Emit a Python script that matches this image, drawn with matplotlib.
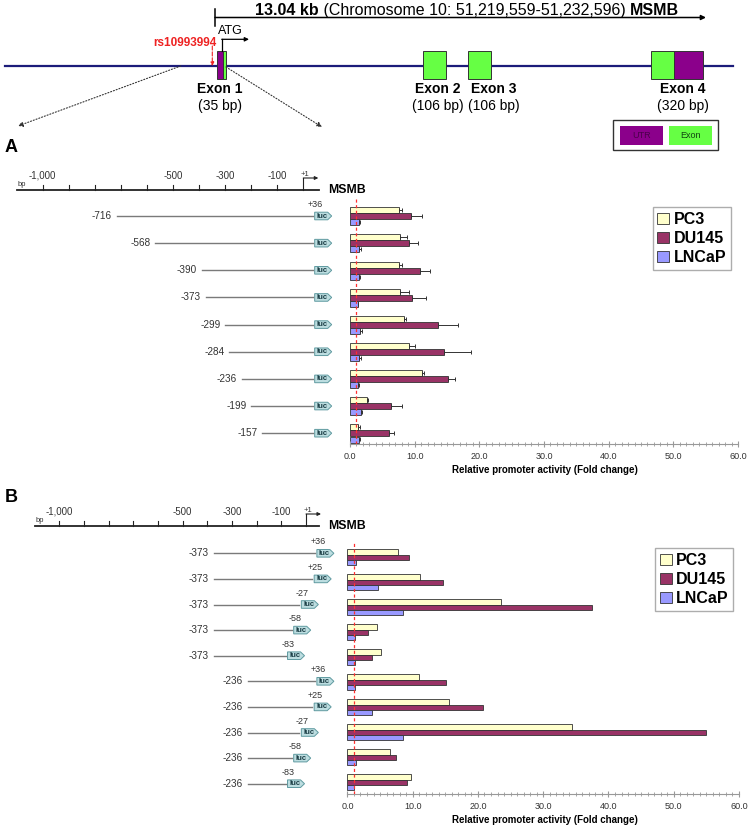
import matplotlib.pyplot as plt
from matplotlib.patches import Rectangle, Polygon, Patch
from matplotlib.ticker import MultipleLocator, FormatStrFormatter
import numpy as np

plt.rcParams['font.family'] = ['Liberation Sans', 'DejaVu Sans']

W, H = 756, 827

# ---------------- data ----------------
cells = ['PC3', 'DU145', 'LNCaP']
cell_colors = ['#ffffcc', '#993366', '#9999ff']

# panel A: 5' deletion constructs, all ending at +36
a_starts = [-716, -568, -390, -373, -299, -284, -236, -199, -157]
a_ends = [36] * 9
a_pc3 = [7.5, 7.8, 7.5, 7.8, 8.4, 9.2, 11.1, 2.7, 1.3]
a_du145 = [9.4, 9.1, 10.8, 9.6, 13.6, 14.6, 15.2, 6.3, 6.0]
a_lncap = [1.4, 1.4, 1.4, 1.2, 1.6, 1.4, 1.3, 1.7, 1.4]
a_pc3_err = [0.6, 1.0, 0.5, 1.4, 0.3, 0.9, 0.4, 0.1, 0.2]
a_du145_err = [1.8, 1.4, 1.6, 2.1, 3.1, 4.1, 1.0, 1.8, 0.8]
a_lncap_err = [0.1, 0.3, 0.1, 0.1, 0.2, 0.3, 0.1, 0.1, 0.1]

# panel B: 3' deletion constructs
b_starts = [-373] * 5 + [-236] * 5
b_ends = [36, 25, -27, -58, -83] * 2
b_pc3 = [7.8, 11.1, 23.5, 4.6, 5.1, 11.0, 15.6, 34.4, 6.5, 9.8]
b_du145 = [9.5, 14.7, 37.5, 3.2, 3.8, 15.1, 20.7, 54.9, 7.4, 9.2]
b_lncap = [1.3, 4.7, 8.5, 1.2, 1.1, 1.2, 3.7, 8.5, 1.3, 1.0]

ruler_ticks = list(range(-1000, 0, 100))
ruler_labels = {-1000: '-1,000', -500: '-500', -300: '-300', -100: '-100'}

# gene schematic, in layout units across the top strip
exon_boxes = [(216.7, 222.7, 'UTR'), (222.7, 226.0, 'Exon'),
              (422.7, 445.7, 'Exon'), (468.3, 490.7, 'Exon'),
              (650.7, 674.0, 'Exon'), (674.0, 703.3, 'UTR')]
exon_names = ['Exon 1', 'Exon 2', 'Exon 3', 'Exon 4']
exon_sizes = ['(35 bp)', '(106 bp)', '(106 bp)', '(320 bp)']
exon_label_x = [220.0, 438.0, 493.5, 682.7]
part_colors = {'UTR': '#8b008b', 'Exon': '#66ff44'}

navy = '#1c1c7a'
grey_txt = '#333333'

fig = plt.figure(figsize=(W / 100, H / 100), dpi=100)


def px_axes(x0, y0, x1, y1):
    return fig.add_axes([x0 / W, 1 - y1 / H, (x1 - x0) / W, (y1 - y0) / H])


# ---------------- gene schematic ----------------
ax0 = px_axes(0, 0, W, 155)
ax0.set_xlim(0, W)
ax0.set_ylim(155, 0)
ax0.axis('off')

ax0.plot([5, 733], [65.7, 65.7], color=navy, lw=1.6, zorder=1)
for x0, x1, kind in exon_boxes:
    ax0.add_patch(Rectangle((x0, 50.7), x1 - x0, 28.6, fc=part_colors[kind],
                            ec='#333333', lw=0.7, zorder=2))
for name, size, x in zip(exon_names, exon_sizes, exon_label_x):
    ax0.text(x, 89.3, name, ha='center', va='center', fontsize=10, fontweight='bold')
    ax0.text(x, 106, size, ha='center', va='center', fontsize=10)

# gene span arrow + title
ax0.plot([215, 215], [9.3, 26], color='black', lw=1.1)
ax0.annotate('', xy=(706, 17.5), xytext=(215, 17.5),
             arrowprops=dict(arrowstyle='-|>', color='black', lw=1.1,
                             mutation_scale=7, shrinkA=0, shrinkB=0))
t1 = ax0.text(255, 10.5, '13.04 kb', ha='left', va='center', fontsize=11.5, fontweight='bold')
t2 = ax0.annotate(' (Chromosome 10: 51,219,559-51,232,596) ', xy=(1, 0), xycoords=t1,
                  ha='left', va='bottom', fontsize=11.5)
ax0.annotate('MSMB', xy=(1, 0), xycoords=t2, ha='left', va='bottom',
             fontsize=11.5, fontweight='bold')

# ATG start
ax0.plot([221.7, 221.7], [50.7, 39.3], color='black', lw=0.9)
ax0.annotate('', xy=(249, 39.3), xytext=(221.7, 39.3),
             arrowprops=dict(arrowstyle='-|>', color='black', lw=0.9,
                             mutation_scale=6, shrinkA=0, shrinkB=0))
ax0.text(230, 31, 'ATG', ha='center', va='center', fontsize=9)

# SNP
ax0.text(216.7, 43.3, 'rs10993994', ha='right', va='center', fontsize=8.5,
         fontweight='bold', color='#ee2222')
ax0.annotate('', xy=(212.3, 66), xytext=(212.3, 46),
             arrowprops=dict(arrowstyle='-|>', color='#ee2222', lw=0.8, ls='--',
                             mutation_scale=5, shrinkA=0, shrinkB=0))

# zoom arrows to promoter maps
for (xa, ya), (xb, yb) in [((180.7, 66), (18, 126)), ((226, 67), (322, 127))]:
    ax0.annotate('', xy=(xb, yb), xytext=(xa, ya),
                 arrowprops=dict(arrowstyle='-|>', color='#333333', lw=0.8, ls=':',
                                 mutation_scale=7, shrinkA=0, shrinkB=0))

# UTR / Exon key
ax0.add_patch(Rectangle((613.3, 120), 105, 30, fc='white', ec='#333333', lw=1.0))
for x0, kind, tc in [(620, 'UTR', '#4a004a'), (669, 'Exon', '#114411')]:
    ax0.add_patch(Rectangle((x0, 125.7), 42.5, 19.3, fc=part_colors[kind], ec='none'))
    ax0.text(x0 + 21.2, 135.3, kind, ha='center', va='center', fontsize=6.5, color=tc)


# ---------------- promoter maps ----------------
def draw_map(ax, starts, ends, ruler_y, ruler_x0, ruler_x1, bp, r, end_labels):
    # bp: bp per pixel, r: rows per pixel
    ax.plot([ruler_x0, ruler_x1], [ruler_y, ruler_y], color='#222222', lw=1.3)
    for t in ruler_ticks:
        ax.plot([t, t], [ruler_y, ruler_y - 5 * r], color='#222222', lw=0.8)
    for t, lab in ruler_labels.items():
        ax.text(t, ruler_y - 14 * r, lab, ha='center', va='center', fontsize=7, color=grey_txt)
    ax.text(ruler_x0 + 1 * bp, ruler_y - 2 * r, 'bp', ha='left', va='bottom', fontsize=5.5,
            color=grey_txt)
    ax.plot([0, 0], [ruler_y, ruler_y - 12 * r], color='#222222', lw=0.8)
    ax.annotate('', xy=(15 * bp, ruler_y - 12 * r), xytext=(0, ruler_y - 12 * r),
                arrowprops=dict(arrowstyle='-|>', color='#222222', lw=0.8,
                                mutation_scale=5, shrinkA=0, shrinkB=0))
    ax.text(2 * bp, ruler_y - 16 * r, '+1', ha='center', va='center', fontsize=5.5, color=grey_txt)
    ax.text(ruler_x1 + 9 * bp, ruler_y, 'MSMB', ha='left', va='center', fontsize=8.8,
            fontweight='bold')

    hh = 3.8 * r
    for i, (s, e) in enumerate(zip(starts, ends)):
        ax.plot([s, e], [i, i], color='#7a7a7a', lw=1.0)
        ax.text(s - 5 * bp, i, f'{s}', ha='right', va='center', fontsize=7.2, color=grey_txt)
        x0 = e + 2 * bp
        ax.add_patch(Polygon([(x0, i - hh), (x0 + 13 * bp, i - hh), (x0 + 17 * bp, i),
                              (x0 + 13 * bp, i + hh), (x0, i + hh)],
                             closed=True, fc='#bcdde0', ec='#5f9aa0', lw=0.7))
        ax.text(x0 + 7.5 * bp, i, 'luc', ha='center', va='center', fontsize=5.5,
                fontweight='bold', color='#173a42')
        if end_labels[i]:
            lab = f'+{e}' if e > 0 else f'{e}'
            ax.text(e + 3 * bp, i - 11.5 * r, lab, ha='center', va='center', fontsize=6.5,
                    color=grey_txt)


def draw_bars(ax, series, errs, h):
    n = len(series[0])
    y = np.arange(n)
    for k, (vals, col) in enumerate(zip(series, cell_colors)):
        kw = {}
        if errs is not None:
            kw = dict(xerr=[np.zeros(n), errs[k]],
                      error_kw=dict(ecolor='#333333', elinewidth=0.7, capsize=1.5, capthick=0.7))
        ax.barh(y + (k - 1) * h, vals, height=h, color=col, edgecolor='#333333',
                linewidth=0.6, **kw)
    ax.axvline(1.0, color='#ff3030', ls=(0, (2.5, 2)), lw=0.9, zorder=4)
    ax.set_xlim(0, 60)
    ax.xaxis.set_major_locator(MultipleLocator(10))
    ax.xaxis.set_minor_locator(MultipleLocator(1))
    ax.xaxis.set_major_formatter(FormatStrFormatter('%.1f'))
    ax.set_yticks([])
    for sp in ['left', 'top', 'right']:
        ax.spines[sp].set_visible(False)
    ax.spines['bottom'].set_color('#999999')
    ax.spines['bottom'].set_linewidth(0.8)
    ax.tick_params(axis='x', which='both', direction='inout', color='#999999',
                   labelsize=6.5, labelcolor=grey_txt, pad=4)
    ax.tick_params(axis='x', which='major', length=4)
    ax.tick_params(axis='x', which='minor', length=2.5)
    ax.set_facecolor('none')
    handles = [Patch(fc=c, ec='#333333', lw=0.6) for c in cell_colors]
    return handles


def add_legend(ax, handles, x, y):
    ax.legend(handles, cells, loc='upper left', bbox_to_anchor=(x / W, 1 - y / H),
              bbox_transform=fig.transFigure, prop={'weight': 'bold', 'size': 11.5},
              frameon=True, fancybox=False, edgecolor='#999999', handlelength=0.75,
              handleheight=0.75, handletextpad=0.25, borderpad=0.3, labelspacing=0.25,
              borderaxespad=0)


# panel A
px_bp_a, px_row_a = 0.2607, 27.15
axA = px_axes(0, 150, 345, 450)
axA.set_xlim(-303.3 / px_bp_a, (345 - 303.3) / px_bp_a)
axA.set_ylim((450 - 216) / px_row_a, (150 - 216) / px_row_a)
axA.axis('off')
draw_map(axA, a_starts, a_ends, (190 - 216) / px_row_a, (17 - 303.3) / px_bp_a,
         (319 - 303.3) / px_bp_a, 1 / px_bp_a, 1 / px_row_a,
         [True] + [False] * 8)

axAb = px_axes(350, 199, 738, 444)
axAb.set_ylim((444 - 216.3) / px_row_a, (199 - 216.3) / px_row_a)
hA = draw_bars(axAb, [a_pc3, a_du145, a_lncap], [a_pc3_err, a_du145_err, a_lncap_err],
               6 / px_row_a)
add_legend(axAb, hA, 652.7, 207.3)
fig.text(545 / W, 1 - 470 / H, 'Relative promoter activity (Fold change)', ha='center',
         va='center', fontsize=7, fontweight='bold')

# panel B
px_bp_b, px_row_b = 0.2467, 25.6
axB = px_axes(0, 480, 345, 800)
axB.set_xlim(-306 / px_bp_b, (345 - 306) / px_bp_b)
axB.set_ylim((800 - 553.3) / px_row_b, (480 - 553.3) / px_row_b)
axB.axis('off')
draw_map(axB, b_starts, b_ends, (526 - 553.3) / px_row_b, (35 - 306) / px_bp_b,
         (319 - 306) / px_bp_b, 1 / px_bp_b, 1 / px_row_b, [True] * 10)

axBb = px_axes(347.4, 543, 739, 794)
axBb.set_ylim((794 - 557.3) / 25.0, (543 - 557.3) / 25.0)
hB = draw_bars(axBb, [b_pc3, b_du145, b_lncap], None, 5.4 / 25.0)
add_legend(axBb, hB, 655, 548.3)
fig.text(545 / W, 1 - 820 / H, 'Relative promoter activity (Fold change)', ha='center',
         va='center', fontsize=7, fontweight='bold')

fig.text(5 / W, 1 - 148 / H, 'A', ha='left', va='center', fontsize=13, fontweight='bold')
fig.text(5 / W, 1 - 498 / H, 'B', ha='left', va='center', fontsize=13, fontweight='bold')

fig.savefig('out.png', dpi=100)
